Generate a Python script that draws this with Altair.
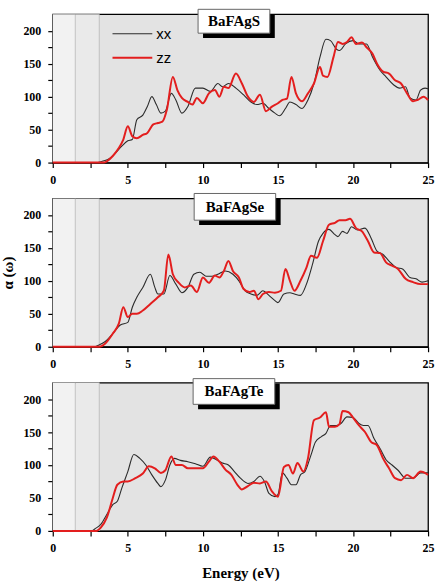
import altair as alt
import pandas as pd

# ---------------- data ----------------
S_XX_E = [0, 3.0, 3.3, 3.7, 4.2, 4.6, 5.0, 5.3, 5.6, 6.0, 6.3, 6.6, 6.9, 7.2, 7.5, 7.9, 8.2, 8.6, 9.0, 9.5,
          10.0, 10.5, 11.0, 11.3, 11.7, 12.2, 12.7, 13.2, 13.6, 14.0, 14.4, 14.8, 15.1, 15.5, 15.8, 16.2, 16.6,
          17.0, 17.4, 17.8, 18.2, 18.5, 18.9, 19.1, 19.5, 20.0, 20.4, 20.9, 21.3, 21.8, 22.2, 22.7, 23.1, 23.5,
          23.8, 24.2, 24.5, 24.8, 25.0]
S_XX_A = [0, 0, 2, 5, 15, 25, 33, 35, 65, 72, 85, 100, 88, 75, 78, 105, 95, 75, 85, 113,
          113, 108, 120, 115, 120, 113, 103, 92, 88, 90, 82, 75, 71, 82, 92, 88, 82,
          95, 120, 160, 187, 185, 172, 170, 180, 185, 180, 180, 160, 140, 130, 118, 113, 115,
          98, 95, 110, 113, 112]
S_ZZ_E = [0, 3.4, 3.6, 4.0, 4.4, 4.7, 5.0, 5.3, 5.6, 6.0, 6.3, 6.7, 7.0, 7.3, 7.6, 8.0, 8.3, 8.6, 9.0, 9.3,
          9.6, 10.0, 10.4, 10.8, 11.1, 11.4, 11.7, 12.2, 12.6, 13.0, 13.4, 13.8, 14.2, 14.6, 15.0, 15.3, 15.6,
          15.9, 16.2, 16.6, 17.0, 17.4, 17.8, 18.0, 18.3, 18.7, 19.0, 19.3, 19.6, 19.9, 20.2, 20.6, 20.9, 21.3,
          21.6, 22.0, 22.4, 22.8, 23.2, 23.6, 24.0, 24.3, 24.7, 25.0]
S_ZZ_A = [0, 0, 2, 10, 22, 35, 55, 40, 37, 42, 45, 58, 60, 62, 80, 130, 110, 98, 92, 88,
          98, 90, 105, 110, 100, 115, 113, 135, 120, 100, 92, 103, 78, 85, 90, 95, 97,
          130, 105, 93, 105, 120, 145, 132, 130, 160, 183, 180, 183, 190, 180, 182, 175, 165,
          150, 138, 135, 125, 120, 105, 93, 95, 100, 95]

SE_XX_E = [0, 2.8, 3.0, 3.5, 4.0, 4.5, 5.0, 5.3, 5.6, 6.0, 6.5, 6.8, 7.0, 7.4, 7.8, 8.2, 8.6, 9.0, 9.4, 9.8,
           10.2, 10.6, 11.0, 11.5, 12.0, 12.4, 12.8, 13.2, 13.6, 14.0, 14.4, 14.8, 15.0, 15.4, 15.8, 16.1, 16.5,
           16.9, 17.3, 17.7, 18.0, 18.4, 18.8, 19.0, 19.3, 19.6, 19.9, 20.3, 20.8, 21.2, 21.6, 22.0, 22.4, 22.9,
           23.3, 23.8, 24.2, 24.6, 25.0]
SE_XX_A = [0, 0, 2, 8, 20, 33, 37, 60, 75, 90, 110, 90, 80, 80, 108, 95, 82, 90, 110, 113,
           107, 107, 110, 115, 110, 100, 85, 80, 78, 85, 78, 70, 67, 80, 82, 80, 78,
           95, 125, 160, 172, 178, 170, 167, 175, 172, 182, 177, 180, 165, 145, 140, 130, 120,
           118, 105, 103, 98, 100]
SE_ZZ_E = [0, 3.1, 3.5, 4.0, 4.4, 4.7, 5.0, 5.3, 5.6, 6.0, 6.5, 7.0, 7.4, 7.7, 8.0, 8.4, 8.8, 9.2, 9.6, 10.0,
           10.4, 10.8, 11.1, 11.4, 11.7, 12.0, 12.4, 12.7, 13.1, 13.4, 13.7, 14.0, 14.4, 14.8, 15.2, 15.5, 15.8,
           16.1, 16.5, 16.9, 17.2, 17.6, 18.0, 18.4, 18.8, 19.1, 19.5, 19.8, 20.2, 20.6, 21.0, 21.4, 21.8, 22.2,
           22.6, 23.0, 23.5, 24.0, 24.5, 25.0]
SE_ZZ_A = [0, 0, 5, 20, 35, 60, 45, 50, 50, 55, 65, 75, 85, 140, 110, 97, 90, 93, 83, 105,
           97, 108, 105, 115, 130, 115, 105, 88, 83, 85, 72, 80, 83, 82, 85, 118, 100,
           85, 100, 120, 138, 135, 160, 185, 188, 192, 192, 194, 180, 175, 160, 143, 142, 128,
           123, 118, 103, 98, 95, 95]

TE_XX_E = [0, 2.6, 2.8, 3.2, 3.6, 4.0, 4.3, 4.6, 5.0, 5.4, 5.8, 6.2, 6.6, 7.0, 7.2, 7.5, 7.8, 8.1, 8.5, 9.0,
           9.5, 10.0, 10.5, 10.9, 11.3, 11.7, 12.1, 12.5, 13.0, 13.4, 13.8, 14.1, 14.4, 14.8, 15.0, 15.3, 15.6,
           15.9, 16.2, 16.5, 16.8, 17.2, 17.5, 17.9, 18.2, 18.5, 18.9, 19.2, 19.6, 20.0, 20.4, 20.7, 21.0, 21.4,
           21.8, 22.2, 22.6, 23.0, 23.5, 24.0, 24.5, 25.0]
TE_XX_A = [0, 0, 3, 10, 25, 40, 45, 65, 90, 116, 110, 100, 85, 72, 67, 77, 100, 110, 107, 105,
           102, 98, 112, 108, 103, 100, 90, 80, 72, 75, 83, 75, 57, 52, 55, 88, 80,
           70, 70, 85, 90, 115, 135, 143, 148, 160, 160, 163, 173, 172, 163, 160, 160, 140,
           125, 108, 100, 92, 80, 80, 88, 88]
TE_ZZ_E = [0, 2.9, 3.2, 3.6, 4.0, 4.3, 4.7, 5.0, 5.5, 6.0, 6.4, 6.8, 7.2, 7.5, 7.9, 8.2, 8.6, 9.0, 9.5, 10.0,
           10.4, 10.7, 11.1, 11.5, 11.9, 12.3, 12.6, 13.0, 13.4, 13.8, 14.2, 14.6, 15.0, 15.4, 15.7, 16.0, 16.3,
           16.7, 17.0, 17.4, 17.8, 18.2, 18.4, 18.8, 19.1, 19.3, 19.7, 20.0, 20.4, 20.8, 21.2, 21.6, 22.0, 22.4,
           22.8, 23.2, 23.6, 24.0, 24.5, 25.0]
TE_ZZ_A = [0, 0, 5, 20, 50, 70, 75, 75, 80, 87, 98, 95, 88, 92, 113, 100, 100, 95, 95, 95,
           105, 113, 105, 93, 85, 70, 63, 68, 73, 72, 75, 60, 52, 97, 100, 87, 103,
           90, 110, 168, 172, 180, 158, 158, 162, 182, 180, 172, 160, 150, 135, 130, 110, 95,
           80, 77, 85, 80, 90, 85]

PANEL_NAMES = ["BaFAgS", "BaFAgSe", "BaFAgTe"]
SERIES = ["xx", "zz"]
X_TICKS = [0, 2.5, 5, 7.5, 10, 12.5, 15, 17.5, 20, 22.5, 25]
Y_TICKS = [0, 25, 50, 75, 100, 125, 150, 175, 200]

# shaded energy bands (gap region)
BAND_E0 = [0, 1.5]
BAND_E1 = [1.5, 3.1]
BAND_COL = ["#f2f2f2", "#eaeaea"]

# label box extents per panel (energy / alpha units)
BOX_E0 = [9.68, 9.42, 9.35]
BOX_E1 = [14.46, 14.85, 14.79]
BOX_A0 = [196.3, 192.0, 192.0]
BOX_A1 = [232.5, 232.5, 231.0]

# ---------------- styling ----------------
W, H = 377, 149
XDOM, YDOM = [0, 25], [0, 225]
BG = "#e3e3e3"
BLACK_LINE = "#2b2b2b"
RED_LINE = "#e31e1e"
SERIF = "Liberation Serif"


def make_panel(i, xxE, xxA, zzE, zzA, legend=False, ytitle=False, xtitle=False):
    xs = alt.Scale(domain=XDOM, nice=False, zero=False)
    ys = alt.Scale(domain=YDOM, nice=False)
    xkw = dict(values=X_TICKS,
               labelExpr="datum.value % 5 == 0 ? datum.label : ''",
               labelFont=SERIF, labelFontWeight="bold", labelFontSize=12, labelColor="black",
               labelPadding=7, tickSize=5, tickColor="black", domainColor="black",
               domainWidth=1.3, tickWidth=1.2, grid=False, labelFlush=False)
    if xtitle:
        xkw.update(title="Energy (eV)", titleFont=SERIF, titleFontWeight="bold", titleFontSize=15,
                   titleColor="black", titlePadding=12)
    else:
        xkw.update(title=None)
    ykw = dict(values=Y_TICKS,
               labelExpr="datum.value % 50 == 0 ? datum.label : ''",
               labelFont=SERIF, labelFontWeight="bold", labelFontSize=12, labelColor="black",
               labelPadding=7, tickSize=5, tickColor="black", domainColor="black",
               domainWidth=1.3, tickWidth=1.2, grid=False)
    if ytitle:
        ykw.update(title="α (ω)", titleFont=SERIF, titleFontWeight="bold", titleFontSize=15,
                   titleColor="black", titlePadding=7)
    else:
        ykw.update(title=None)
    xax = alt.Axis(**xkw)
    yax = alt.Axis(**ykw)

    bands_df = pd.DataFrame({"e0": BAND_E0, "e1": BAND_E1, "c": BAND_COL})
    bands = alt.Chart(bands_df).mark_rect().encode(
        x=alt.X("e0:Q", scale=xs, axis=xax), x2="e1:Q",
        y=alt.value(0), y2=alt.value(H),
        color=alt.Color("c:N", scale=None))
    rules = alt.Chart(bands_df).mark_rule(color="#b8b8b8", strokeWidth=0.8).encode(
        x=alt.X("e1:Q", scale=xs, axis=xax), y=alt.value(0), y2=alt.value(H))

    xx_df = pd.DataFrame({"E": xxE, "A": xxA})
    zz_df = pd.DataFrame({"E": zzE, "A": zzA})
    xx_line = alt.Chart(xx_df).mark_line(color=BLACK_LINE, strokeWidth=1.1, interpolate="monotone").encode(
        x=alt.X("E:Q", scale=xs, axis=xax), y=alt.Y("A:Q", scale=ys, axis=yax))
    zz_line = alt.Chart(zz_df).mark_line(color=RED_LINE, strokeWidth=2, interpolate="monotone").encode(
        x=alt.X("E:Q", scale=xs, axis=xax), y=alt.Y("A:Q", scale=ys, axis=yax))

    box_df = pd.DataFrame({"e0": [BOX_E0[i]], "e1": [BOX_E1[i]], "a0": [BOX_A0[i]], "a1": [BOX_A1[i]],
                           "se0": [BOX_E0[i] + 0.33], "se1": [BOX_E1[i] + 0.33],
                           "sa0": [BOX_A0[i] - 7.5], "sa1": [BOX_A1[i] - 7.5],
                           "cx": [(BOX_E0[i] + BOX_E1[i]) / 2], "cy": [(BOX_A0[i] + BOX_A1[i]) / 2],
                           "t": [PANEL_NAMES[i]]})
    shadow = alt.Chart(box_df).mark_rect(color="black").encode(
        x=alt.X("se0:Q", scale=xs, axis=xax), x2="se1:Q",
        y=alt.Y("sa0:Q", scale=ys, axis=yax), y2="sa1:Q")
    box = alt.Chart(box_df).mark_rect(fill="white", stroke="#666666", strokeWidth=1).encode(
        x=alt.X("e0:Q", scale=xs, axis=xax), x2="e1:Q",
        y=alt.Y("a0:Q", scale=ys, axis=yax), y2="a1:Q")
    label = alt.Chart(box_df).mark_text(font=SERIF, fontWeight="bold", fontSize=15, color="black",
                                        baseline="middle", align="center").encode(
        x=alt.X("cx:Q", scale=xs, axis=xax), y=alt.Y("cy:Q", scale=ys, axis=yax), text="t:N")

    layers = [bands, rules, xx_line, zz_line, shadow, box, label]

    if legend:
        leg_df = pd.DataFrame({"s": SERIES, "e0": [3.98, 3.98], "e1": [6.63, 6.63], "a": [195.5, 159.0],
                               "te": [6.9, 6.9]})
        leg_xx = alt.Chart(leg_df.iloc[[0]]).mark_rule(color=BLACK_LINE, strokeWidth=1.1).encode(
            x=alt.X("e0:Q", scale=xs, axis=xax), x2="e1:Q", y=alt.Y("a:Q", scale=ys, axis=yax))
        leg_zz = alt.Chart(leg_df.iloc[[1]]).mark_rule(color=RED_LINE, strokeWidth=2).encode(
            x=alt.X("e0:Q", scale=xs, axis=xax), x2="e1:Q", y=alt.Y("a:Q", scale=ys, axis=yax))
        leg_txt = alt.Chart(leg_df).mark_text(font="Liberation Sans", fontSize=15, color="black",
                                              align="left", baseline="middle").encode(
            x=alt.X("te:Q", scale=xs, axis=xax), y=alt.Y("a:Q", scale=ys, axis=yax), text="s:N")
        layers += [leg_xx, leg_zz, leg_txt]

    return alt.layer(*layers).properties(width=W, height=H)


p1 = make_panel(0, S_XX_E, S_XX_A, S_ZZ_E, S_ZZ_A, legend=True)
p2 = make_panel(1, SE_XX_E, SE_XX_A, SE_ZZ_E, SE_ZZ_A, ytitle=True)
p3 = make_panel(2, TE_XX_E, TE_XX_A, TE_ZZ_E, TE_ZZ_A, xtitle=True)

chart = alt.vconcat(p1, p2, p3, spacing=36, bounds="flush").properties(
    padding={"left": 0, "top": 6, "right": 5, "bottom": 0},
    background="white",
).configure_view(fill=BG, stroke="black", strokeWidth=1.3)

chart.save("out.html", embed_options={"renderer": "svg", "actions": False})
